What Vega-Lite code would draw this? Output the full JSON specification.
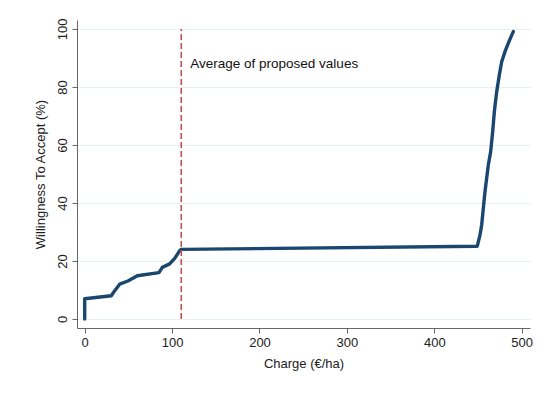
{
  "$schema": "https://vega.github.io/schema/vega-lite/v6.json",
  "autosize": {"type": "none"},
  "padding": {"left": 77, "top": 20, "right": 20, "bottom": 76},
  "width": 453,
  "height": 308,
  "background": "white",
  "config": {
    "view": {"stroke": null},
    "font": "Liberation Sans",
    "axis": {
      "domainColor": "#666666",
      "tickColor": "#666666",
      "labelColor": "#222222",
      "titleColor": "#222222",
      "labelFontSize": 13,
      "titleFontSize": 13,
      "titleFontWeight": "normal",
      "tickSize": 5,
      "gridColor": "#e6eff1",
      "gridWidth": 1.2
    }
  },
  "datasets": {
    "curve": [
      {"charge": 0, "wta": 0},
      {"charge": 0, "wta": 7},
      {"charge": 30.4, "wta": 8.0},
      {"charge": 33.5, "wta": 9.4},
      {"charge": 40, "wta": 12},
      {"charge": 49.5, "wta": 13.1},
      {"charge": 60.2, "wta": 14.9},
      {"charge": 85, "wta": 16.0},
      {"charge": 88.8, "wta": 17.8},
      {"charge": 97.2, "wta": 19.0},
      {"charge": 103, "wta": 20.9},
      {"charge": 108.7, "wta": 23.6},
      {"charge": 110.5, "wta": 24.0},
      {"charge": 449.2, "wta": 25.1},
      {"charge": 452.3, "wta": 29.0},
      {"charge": 454.2, "wta": 32.4},
      {"charge": 458, "wta": 43.9},
      {"charge": 461.8, "wta": 53.1},
      {"charge": 464.5, "wta": 57.7},
      {"charge": 466.8, "wta": 64.6},
      {"charge": 468.7, "wta": 71.5},
      {"charge": 471.4, "wta": 78.4},
      {"charge": 474.4, "wta": 84.1},
      {"charge": 477.1, "wta": 88.7},
      {"charge": 480.9, "wta": 92.2},
      {"charge": 484.7, "wta": 95.1},
      {"charge": 488.6, "wta": 97.9},
      {"charge": 490.4, "wta": 99.1}
    ],
    "avg": [
      {"charge": 110.5, "y0": 0, "y1": 100, "label": "Average of proposed values", "ty": 88}
    ]
  },
  "layer": [
    {
      "data": {"name": "curve"},
      "mark": {"type": "line", "color": "#1a476f", "strokeWidth": 3.4, "strokeCap": "round", "strokeJoin": "round", "clip": true},
      "encoding": {
        "x": {
          "field": "charge", "type": "quantitative",
          "scale": {"domain": [-8.8, 509.5], "nice": false, "zero": false},
          "axis": {"values": [0, 100, 200, 300, 400, 500], "title": "Charge (€/ha)", "grid": false, "labelPadding": 3, "titlePadding": 8}
        },
        "y": {
          "field": "wta", "type": "quantitative",
          "scale": {"domain": [-3.1, 103.1], "nice": false, "zero": false},
          "axis": {"values": [0, 20, 40, 60, 80, 100], "title": "Willingness To Accept (%)", "grid": true, "labelAngle": -90, "labelAlign": "center", "labelBaseline": "bottom", "labelPadding": 3, "titlePadding": 9}
        },
        "order": {"field": "charge", "type": "quantitative"}
      }
    },
    {
      "data": {"name": "avg"},
      "mark": {"type": "rule", "color": "#c0504d", "strokeWidth": 1.6, "strokeDash": [6, 3]},
      "encoding": {
        "x": {"field": "charge", "type": "quantitative"},
        "y": {"field": "y0", "type": "quantitative"},
        "y2": {"field": "y1"}
      }
    },
    {
      "data": {"name": "avg"},
      "mark": {"type": "text", "align": "left", "baseline": "middle", "dx": 9, "fontSize": 13.5, "color": "#111111"},
      "encoding": {
        "x": {"field": "charge", "type": "quantitative"},
        "y": {"field": "ty", "type": "quantitative"},
        "text": {"field": "label"}
      }
    }
  ]
}
